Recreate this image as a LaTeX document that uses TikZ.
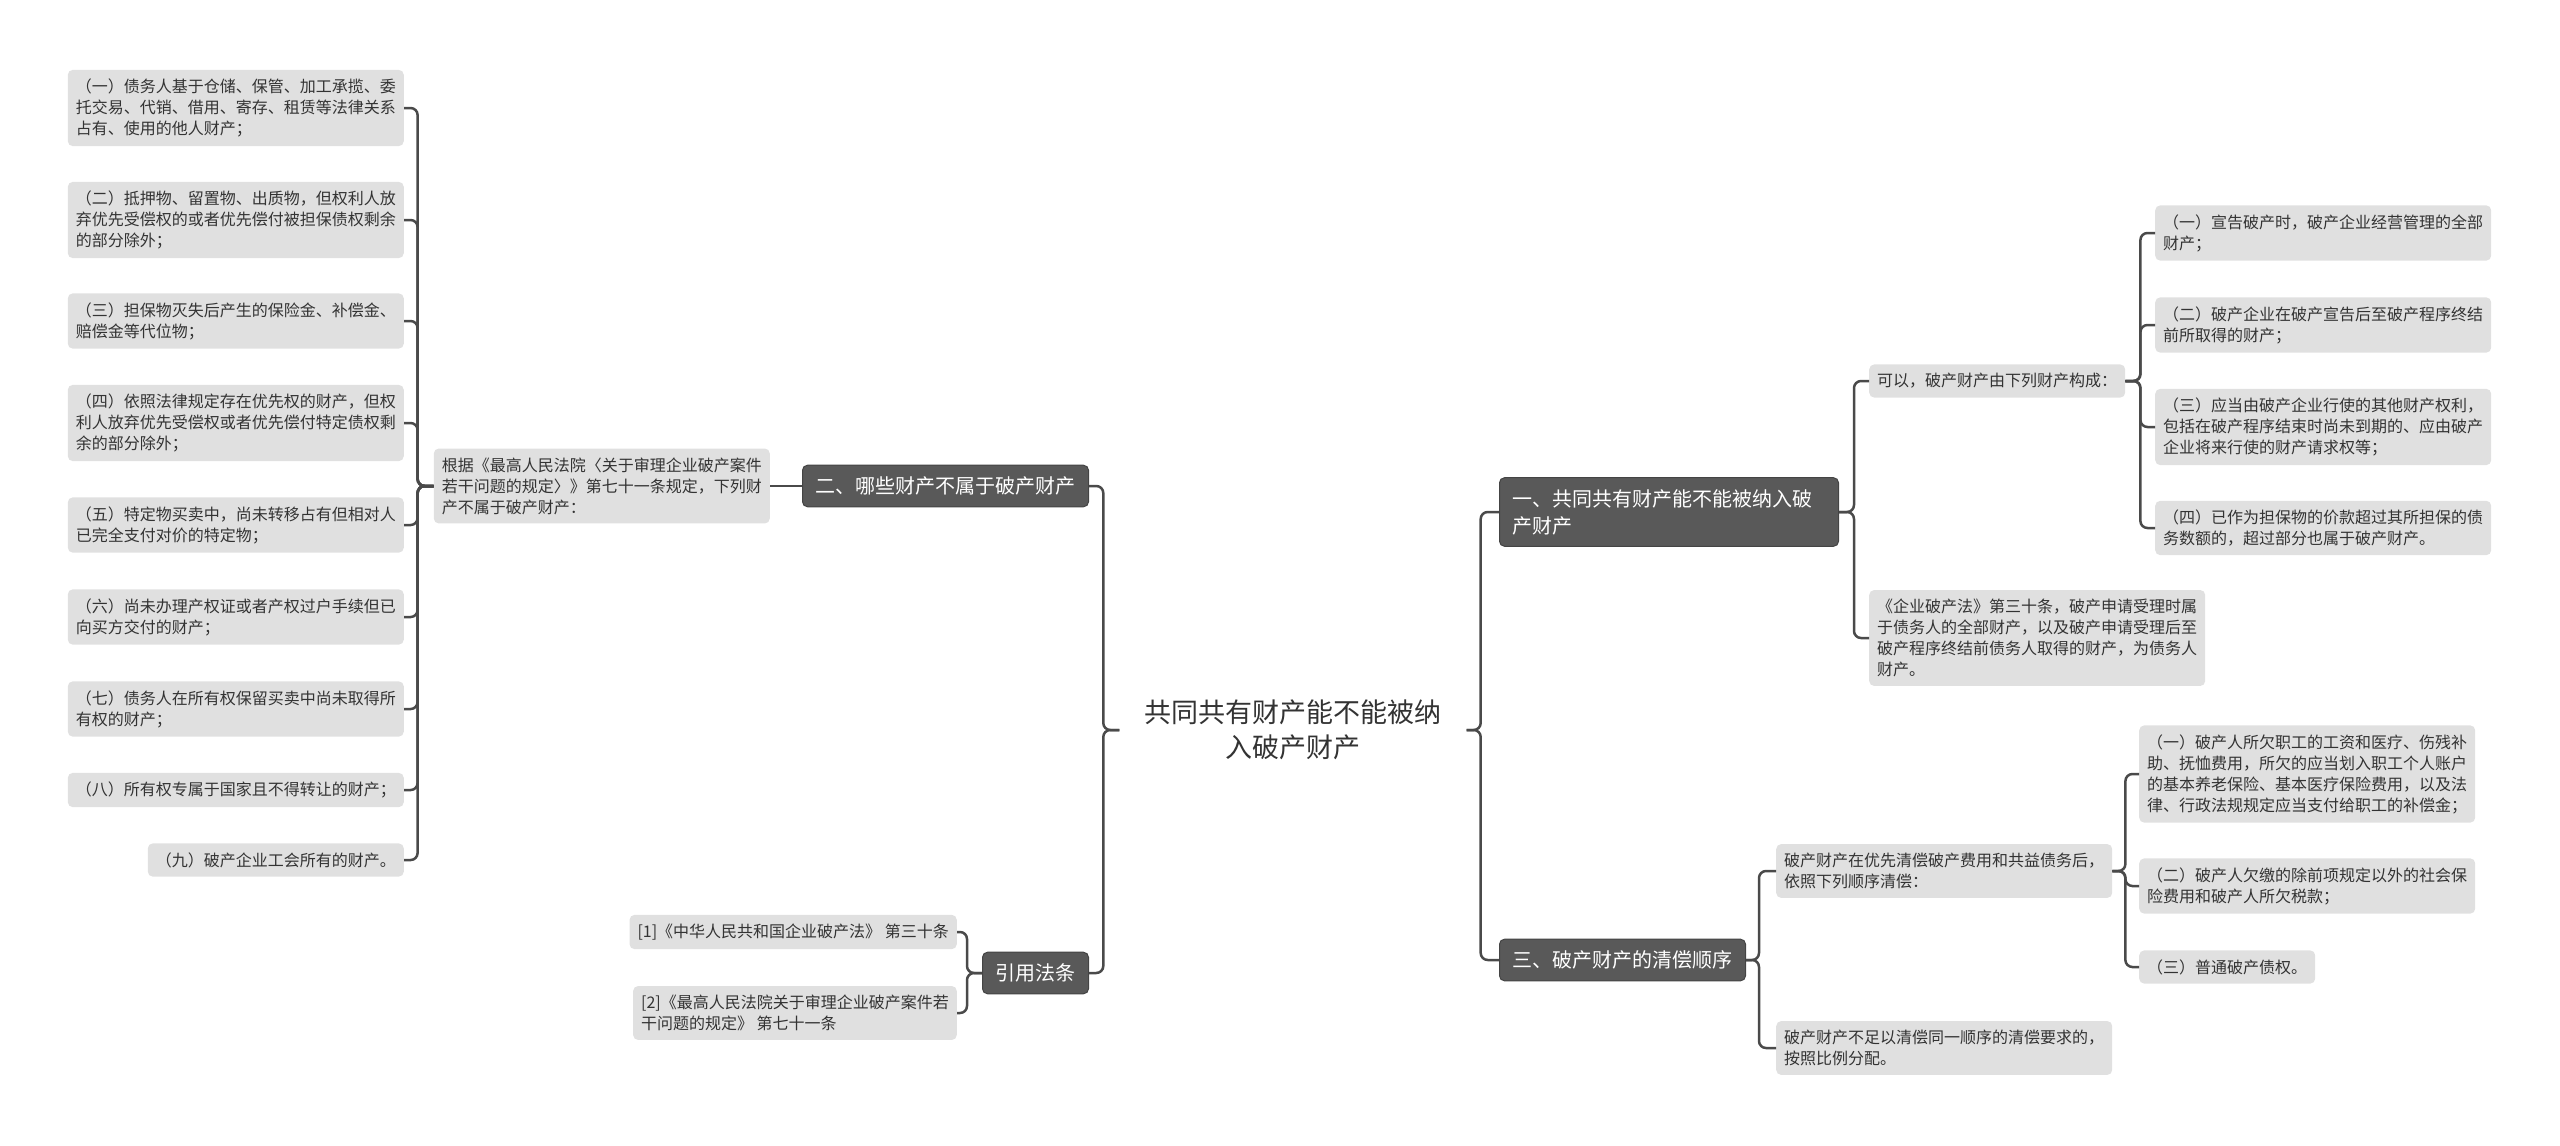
\documentclass[tikz,border=0pt]{standalone}
\usepackage{fontspec}
\setmainfont{Noto Sans CJK SC}
\usepackage{tikz}
\usetikzlibrary{positioning,calc}

\definecolor{textgray}{HTML}{333333}
\definecolor{leafgray}{HTML}{E0E0E0}
\definecolor{topicgray}{HTML}{595959}
\definecolor{topicline}{HTML}{444444}
\definecolor{linegray}{HTML}{4A4A4A}

\begin{document}
\begin{tikzpicture}[x=1pt, y=-1pt,
    root/.style={fill=white, align=center, text=textgray, font=\fontsize{27}{35}\selectfont, inner xsep=25pt, inner ysep=6pt},
    topic/.style={rectangle, rounded corners=5pt, fill=topicgray, draw=topicline, line width=1pt, text=white, align=left, font=\fontsize{20}{27}\selectfont, inner xsep=13pt, inner ysep=11.5pt},
    leaf/.style={rectangle, rounded corners=5pt, fill=leafgray, text=textgray, align=left, font=\fontsize{16}{21}\selectfont, inner xsep=8pt, inner ysep=9pt},
    link/.style={draw=linegray, line width=2.5pt, rounded corners=7pt}]

\useasboundingbox (0,0) rectangle (2560,1146);

% Root in the middle
\node[root] (root) at (1293,730) {共同共有财产能不能被纳\\入破产财产};

% Main topics, left and right of the root
\node[topic, anchor=east] (notprop) at (1089,486) {二、哪些财产不属于破产财产};
\node[topic, anchor=east] (cite) at (1089,973) {引用法条};
\node[topic, anchor=west, text width=313pt] (joint) at (1499,512) {一、共同共有财产能不能被纳入破\\产财产};
\node[topic, anchor=west] (order) at (1499,960) {三、破产财产的清偿顺序};

% Left side: what is not bankruptcy property
\node[leaf, anchor=east] (basis) at (770,486) {根据《最高人民法院〈关于审理企业破产案件\\若干问题的规定〉》第七十一条规定，下列财\\产不属于破产财产：};
\node[leaf, anchor=east] (np1) at (404,108) {（一）债务人基于仓储、保管、加工承揽、委\\托交易、代销、借用、寄存、租赁等法律关系\\占有、使用的他人财产；};
\node[leaf, anchor=east] (np2) at (404,220) {（二）抵押物、留置物、出质物，但权利人放\\弃优先受偿权的或者优先偿付被担保债权剩余\\的部分除外；};
\node[leaf, anchor=east] (np3) at (404,321) {（三）担保物灭失后产生的保险金、补偿金、\\赔偿金等代位物；};
\node[leaf, anchor=east] (np4) at (404,423) {（四）依照法律规定存在优先权的财产，但权\\利人放弃优先受偿权或者优先偿付特定债权剩\\余的部分除外；};
\node[leaf, anchor=east] (np5) at (404,525) {（五）特定物买卖中，尚未转移占有但相对人\\已完全支付对价的特定物；};
\node[leaf, anchor=east] (np6) at (404,617) {（六）尚未办理产权证或者产权过户手续但已\\向买方交付的财产；};
\node[leaf, anchor=east] (np7) at (404,709) {（七）债务人在所有权保留买卖中尚未取得所\\有权的财产；};
\node[leaf, anchor=east] (np8) at (404,790) {（八）所有权专属于国家且不得转让的财产；};
\node[leaf, anchor=east] (np9) at (404,860) {（九）破产企业工会所有的财产。};

% Left side: cited articles
\node[leaf, anchor=east] (cite1) at (957,932) {[1]《中华人民共和国企业破产法》 第三十条};
\node[leaf, anchor=east] (cite2) at (957,1013) {[2]《最高人民法院关于审理企业破产案件若\\干问题的规定》 第七十一条};

% Right side: joint property
\node[leaf, anchor=west] (canbe) at (1869,381) {可以，破产财产由下列财产构成：};
\node[leaf, anchor=west] (art30) at (1869,638) {《企业破产法》第三十条，破产申请受理时属\\于债务人的全部财产，以及破产申请受理后至\\破产程序终结前债务人取得的财产，为债务人\\财产。};
\node[leaf, anchor=west] (bp1) at (2155,233) {（一）宣告破产时，破产企业经营管理的全部\\财产；};
\node[leaf, anchor=west] (bp2) at (2155,325) {（二）破产企业在破产宣告后至破产程序终结\\前所取得的财产；};
\node[leaf, anchor=west] (bp3) at (2155,427) {（三）应当由破产企业行使的其他财产权利，\\包括在破产程序结束时尚未到期的、应由破产\\企业将来行使的财产请求权等；};
\node[leaf, anchor=west] (bp4) at (2155,528) {（四）已作为担保物的价款超过其所担保的债\\务数额的，超过部分也属于破产财产。};

% Right side: order of repayment
\node[leaf, anchor=west] (first) at (1776,871) {破产财产在优先清偿破产费用和共益债务后，\\依照下列顺序清偿：};
\node[leaf, anchor=west] (short) at (1776,1048) {破产财产不足以清偿同一顺序的清偿要求的，\\按照比例分配。};
\node[leaf, anchor=west] (rk1) at (2139,774) {（一）破产人所欠职工的工资和医疗、伤残补\\助、抚恤费用，所欠的应当划入职工个人账户\\的基本养老保险、基本医疗保险费用，以及法\\律、行政法规规定应当支付给职工的补偿金；};
\node[leaf, anchor=west] (rk2) at (2139,886) {（二）破产人欠缴的除前项规定以外的社会保\\险费用和破产人所欠税款；};
\node[leaf, anchor=west] (rk3) at (2139,967) {（三）普通破产债权。};

% Connectors
\foreach \n in {notprop,cite}
    \draw[link] (root.west) -- ++(-16,0) |- (\n.east);
\foreach \n in {joint,order}
    \draw[link] (root.east) -- ++(14,0) |- (\n.west);

\draw[link] (notprop.west) -- (basis.east);
\foreach \n in {np1,np2,np3,np4,np5,np6,np7,np8,np9}
    \draw[link] (basis.west) -- ++(-16,0) |- (\n.east);
\foreach \n in {cite1,cite2}
    \draw[link] (cite.west) -- ++(-15,0) |- (\n.east);

\foreach \n in {canbe,art30}
    \draw[link] (joint.east) -- ++(15,0) |- (\n.west);
\foreach \n in {bp1,bp2,bp3,bp4}
    \draw[link] (canbe.east) -- ++(15,0) |- (\n.west);

\foreach \n in {first,short}
    \draw[link] (order.east) -- ++(13,0) |- (\n.west);
\foreach \n in {rk1,rk2,rk3}
    \draw[link] (first.east) -- ++(13,0) |- (\n.west);

\end{tikzpicture}
\end{document}
